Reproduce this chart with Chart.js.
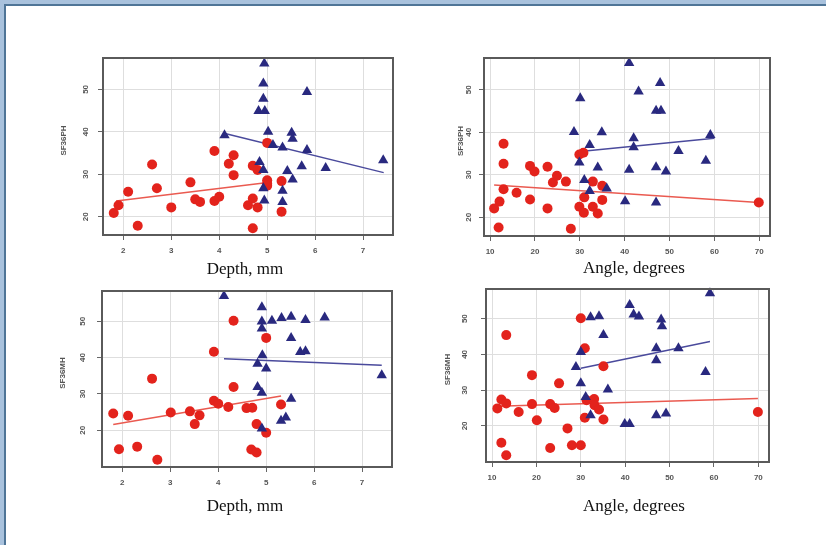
<!DOCTYPE html>
<html>
<head>
<meta charset="utf-8">
<script src="https://cdn.jsdelivr.net/npm/chart.js@4"></script>
<style>
  body { margin: 0; background: #fff; }
  #page { position: relative; width: 826px; height: 545px; overflow: hidden; background: #fff; }
  .band-top { position: absolute; left: 0; top: 0; width: 826px; height: 4px; background: #a9c2dd; }
  .band-left { position: absolute; left: 0; top: 0; width: 4px; height: 545px; background: #a9c2dd; }
  .line-top { position: absolute; left: 4px; top: 4px; width: 822px; height: 2px; background: #4f7597; }
  .line-left { position: absolute; left: 4px; top: 4px; width: 2px; height: 541px; background: #4f7597; }
  .panel { position: absolute; }
  .xtitle { position: absolute; font-family: "Liberation Serif", "DejaVu Serif", serif; font-size: 17px; color: #111; transform: translateX(-50%); white-space: nowrap; }
</style>
</head>
<body>
<div id="page">
  <div class="band-top"></div>
  <div class="band-left"></div>
  <div class="line-top"></div>
  <div class="line-left"></div>

  <div class="panel" style="left:40px;top:30px;width:370px;height:235px"><canvas id="tl"></canvas></div>
  <div class="panel" style="left:420px;top:30px;width:370px;height:236px"><canvas id="tr"></canvas></div>
  <div class="panel" style="left:40px;top:262px;width:370px;height:235px"><canvas id="bl"></canvas></div>
  <div class="panel" style="left:420px;top:260px;width:370px;height:232px"><canvas id="br"></canvas></div>

  <div class="xtitle" style="left:245px;top:259px">Depth, mm</div>
  <div class="xtitle" style="left:634px;top:258px">Angle, degrees</div>
  <div class="xtitle" style="left:245px;top:496px">Depth, mm</div>
  <div class="xtitle" style="left:634px;top:496px">Angle, degrees</div>
</div>

<script>
// tick labels
const depthTicks = [2, 3, 4, 5, 6, 7];
const angleTicks = [10, 20, 30, 40, 50, 60, 70];
const sfTicks = [20, 30, 40, 50];

// SF36PH vs depth
const phDepthRed = [[1.8,20.9],[1.9,22.7],[2.1,25.9],[2.3,17.9],[2.6,32.3],[2.7,26.7],[3.0,22.2],[3.4,28.1],
  [3.5,24.1],[3.6,23.5],[3.9,35.5],[3.9,23.7],[4.0,24.7],[4.2,32.5],[4.3,34.5],[4.3,29.8],[4.6,22.7],
  [4.7,24.3],[4.7,32.0],[4.8,31.0],[4.8,22.2],[4.7,17.3],[5.0,37.4],[5.0,28.6],[5.0,27.8],[5.0,27.3],
  [5.3,28.4],[5.3,21.2]];
const phDepthBlue = [[4.94,56.1],[4.92,51.4],[4.92,47.8],[4.82,44.9],[4.95,44.9],[5.83,49.4],[4.11,39.2],
  [5.02,40.0],[5.12,36.9],[5.32,36.3],[5.51,39.8],[5.53,38.4],[5.83,35.7],[4.84,32.9],[4.92,31.0],
  [5.72,31.9],[6.22,31.5],[7.42,33.3],[5.42,30.8],[5.53,28.8],[4.92,26.7],[5.32,26.1],[4.94,23.8],[5.32,23.5]];
const phDepthRedFit = [[1.85,23.7],[4.97,28.0]];
const phDepthBlueFit = [[4.12,39.6],[7.43,30.4]];

// SF36PH vs angle
const phAngleRed = [[10.9,22.1],[12.1,23.7],[11.9,17.6],[13.0,37.3],[13.0,32.6],[13.0,26.6],[15.9,25.8],
  [18.9,24.2],[18.9,32.1],[19.9,30.8],[22.8,31.9],[22.8,22.1],[24.0,28.2],[24.9,29.8],[26.9,28.4],
  [28.0,17.3],[29.9,34.8],[30.8,35.2],[29.9,22.5],[30.9,21.1],[31.0,24.7],[32.9,22.5],[32.9,28.4],
  [34.0,20.9],[35.0,27.4],[35.0,24.1],[69.9,23.5]];
const phAngleBlue = [[41.0,56.3],[47.9,51.6],[43.1,49.6],[30.1,48.0],[47.0,45.1],[48.1,45.1],[28.7,40.1],
  [34.9,40.0],[42.0,38.6],[59.1,39.4],[32.2,37.0],[42.0,36.5],[52.0,35.6],[58.1,33.3],[29.9,32.9],
  [34.0,31.7],[41.0,31.2],[47.0,31.8],[49.2,30.8],[31.0,28.8],[36.0,26.8],[32.2,26.2],[40.1,23.8],[47.0,23.5]];
const phAngleRedFit = [[10.9,27.6],[69.9,23.5]];
const phAngleBlueFit = [[31.2,35.6],[60.0,38.6]];

// SF36MH vs depth
const mhDepthRed = [[1.81,24.6],[1.93,14.8],[2.12,24.0],[2.31,15.5],[2.62,34.2],[2.73,11.9],[3.01,24.9],
  [3.41,25.2],[3.51,21.7],[3.61,24.1],[3.91,41.6],[3.91,28.1],[4.0,27.3],[4.21,26.4],[4.32,50.1],
  [4.32,31.9],[4.59,26.1],[4.71,26.2],[4.69,14.7],[4.8,13.9],[4.8,21.7],[5.0,45.4],[5.0,19.3],[5.31,27.1]];
const mhDepthBlue = [[4.12,56.9],[4.91,53.8],[4.91,49.9],[4.91,48.0],[5.12,50.1],[5.32,50.9],[5.52,51.2],
  [5.82,50.3],[6.22,51.0],[5.52,45.4],[5.71,41.5],[5.82,41.7],[4.92,40.6],[4.82,38.3],[5.0,37.0],
  [7.41,35.1],[4.82,31.9],[4.91,30.3],[5.52,28.7],[4.91,20.5],[5.31,22.6],[5.41,23.5]];
const mhDepthRedFit = [[1.81,21.6],[5.31,29.4]];
const mhDepthBlueFit = [[4.12,39.7],[7.41,37.9]];

// SF36MH vs angle
const mhAngleRed = [[11.2,24.9],[12.1,27.4],[13.2,26.3],[13.2,45.4],[12.1,15.3],[13.2,11.8],[16.0,23.9],
  [19.0,34.2],[19.0,26.1],[20.1,21.6],[23.1,26.1],[24.1,25.0],[23.1,13.8],[25.1,31.9],[27.0,19.3],
  [28.0,14.6],[30.0,14.6],[30.0,50.1],[30.9,41.7],[30.9,22.3],[31.3,27.2],[33.0,27.5],[33.1,25.8],
  [34.1,24.6],[35.1,36.7],[35.1,21.8],[69.9,23.9]];
const mhAngleBlue = [[59.1,57.1],[41.0,53.8],[41.9,51.2],[43.1,50.6],[32.2,50.4],[34.1,50.7],[48.1,49.8],
  [48.3,47.9],[35.1,45.4],[30.0,40.7],[47.0,41.7],[52.0,41.7],[47.0,38.4],[28.9,36.5],[58.1,35.1],
  [30.0,31.9],[36.1,30.2],[31.1,28.1],[32.2,23.0],[39.9,20.5],[41.0,20.5],[47.0,23.0],[49.2,23.5]];
const mhAngleRedFit = [[11.2,25.5],[69.9,27.7]];
const mhAngleBlueFit = [[30.0,36.1],[59.1,43.6]];

const RED = '#e3231c';
const NAVY = '#29297f';

const toXY = arr => arr.map(p => ({ x: p[0], y: p[1] }));

// rotated y labels, y title and the plot box
const framePlugin = {
  id: 'framePlugin',
  afterDraw(chart, args, opts) {
    const { ctx, chartArea: a, scales: { y } } = chart;
    ctx.save();
    ctx.strokeStyle = '#5a5a5a';
    ctx.lineWidth = 2;
    ctx.strokeRect(a.left, a.top, a.right - a.left, a.bottom - a.top);

    ctx.fillStyle = '#555';
    ctx.font = 'bold 8px "Liberation Sans", Arial, sans-serif';
    ctx.textAlign = 'center';
    ctx.textBaseline = 'middle';
    y.ticks.forEach(t => {
      ctx.save();
      ctx.translate(opts.tickX, y.getPixelForValue(t.value));
      ctx.rotate(-Math.PI / 2);
      ctx.fillText(String(t.value), 0, 0);
      ctx.restore();
    });
    ctx.save();
    ctx.translate(opts.titleX, (a.top + a.bottom) / 2 - 6);
    ctx.rotate(-Math.PI / 2);
    ctx.font = 'bold 8px "Liberation Sans", Arial, sans-serif';
    ctx.fillText(opts.title, 0, 0);
    ctx.restore();
    ctx.restore();
  }
};

function makePanel(id, cfg) {
  new Chart(document.getElementById(id), {
    type: 'scatter',
    data: {
      datasets: [
        { data: toXY(cfg.redFit), type: 'line', showLine: true, borderColor: '#ea5a50', borderWidth: 1.5,
          pointRadius: 0, fill: false, clip: false, order: 3 },
        { data: toXY(cfg.blueFit), type: 'line', showLine: true, borderColor: '#4a4a9c', borderWidth: 1.5,
          pointRadius: 0, fill: false, clip: false, order: 3 },
        { data: toXY(cfg.red), pointStyle: 'circle', pointRadius: 5, backgroundColor: RED,
          borderColor: RED, borderWidth: 0, clip: false, order: 2 },
        { data: toXY(cfg.blue), pointStyle: 'triangle', pointRadius: 6, backgroundColor: NAVY,
          borderColor: NAVY, borderWidth: 0, clip: false, order: 1 }
      ]
    },
    options: {
      responsive: true,
      maintainAspectRatio: false,
      animation: false,
      layout: { padding: { top: cfg.padTop, right: cfg.padRight, left: 0, bottom: 0 } },
      plugins: {
        legend: { display: false },
        tooltip: { enabled: false },
        framePlugin: { tickX: cfg.tickX, titleX: cfg.titleX, title: cfg.title }
      },
      scales: {
        x: {
          type: 'linear',
          min: cfg.xMin, max: cfg.xMax,
          afterBuildTicks: s => { s.ticks = cfg.xTicks.map(v => ({ value: v })); },
          afterFit: s => { s.height = cfg.xAxisH; },
          grid: { color: '#dedede', lineWidth: 1, tickColor: '#666', tickLength: 5, drawTicks: true },
          border: { display: false },
          ticks: { color: '#555', font: { size: 8, weight: 'bold', family: '"Liberation Sans", Arial, sans-serif' },
                   padding: 6, maxRotation: 0, autoSkip: false }
        },
        y: {
          type: 'linear',
          min: cfg.yMin, max: cfg.yMax,
          afterBuildTicks: s => { s.ticks = sfTicks.map(v => ({ value: v })); },
          afterFit: s => { s.width = cfg.yAxisW; },
          grid: { color: '#dedede', lineWidth: 1, tickColor: '#666', tickLength: 5, drawTicks: true },
          border: { display: false },
          ticks: { display: false }
        }
      }
    },
    plugins: [framePlugin]
  });
}

makePanel('tl', {
  red: phDepthRed, blue: phDepthBlue, redFit: phDepthRedFit, blueFit: phDepthBlueFit,
  xMin: 1.576, xMax: 7.624, yMin: 15.7, yMax: 57.4, xTicks: depthTicks,
  padTop: 28, padRight: 17, yAxisW: 63, xAxisH: 30, tickX: 46, titleX: 24, title: 'SF36PH'
});
makePanel('tr', {
  red: phAngleRed, blue: phAngleBlue, redFit: phAngleRedFit, blueFit: phAngleBlueFit,
  xMin: 8.64, xMax: 72.4, yMin: 15.6, yMax: 57.5, xTicks: angleTicks,
  padTop: 28, padRight: 20, yAxisW: 64, xAxisH: 30, tickX: 49, titleX: 41, title: 'SF36PH'
});
makePanel('bl', {
  red: mhDepthRed, blue: mhDepthBlue, redFit: mhDepthRedFit, blueFit: mhDepthBlueFit,
  xMin: 1.576, xMax: 7.624, yMin: 9.9, yMax: 58.3, xTicks: depthTicks,
  padTop: 29, padRight: 18, yAxisW: 62, xAxisH: 30, tickX: 43, titleX: 23, title: 'SF36MH'
});
makePanel('br', {
  red: mhAngleRed, blue: mhAngleBlue, redFit: mhAngleRedFit, blueFit: mhAngleBlueFit,
  xMin: 8.64, xMax: 72.4, yMin: 9.9, yMax: 58.3, xTicks: angleTicks,
  padTop: 29, padRight: 21, yAxisW: 66, xAxisH: 30, tickX: 45, titleX: 28, title: 'SF36MH'
});
</script>
</body>
</html>
